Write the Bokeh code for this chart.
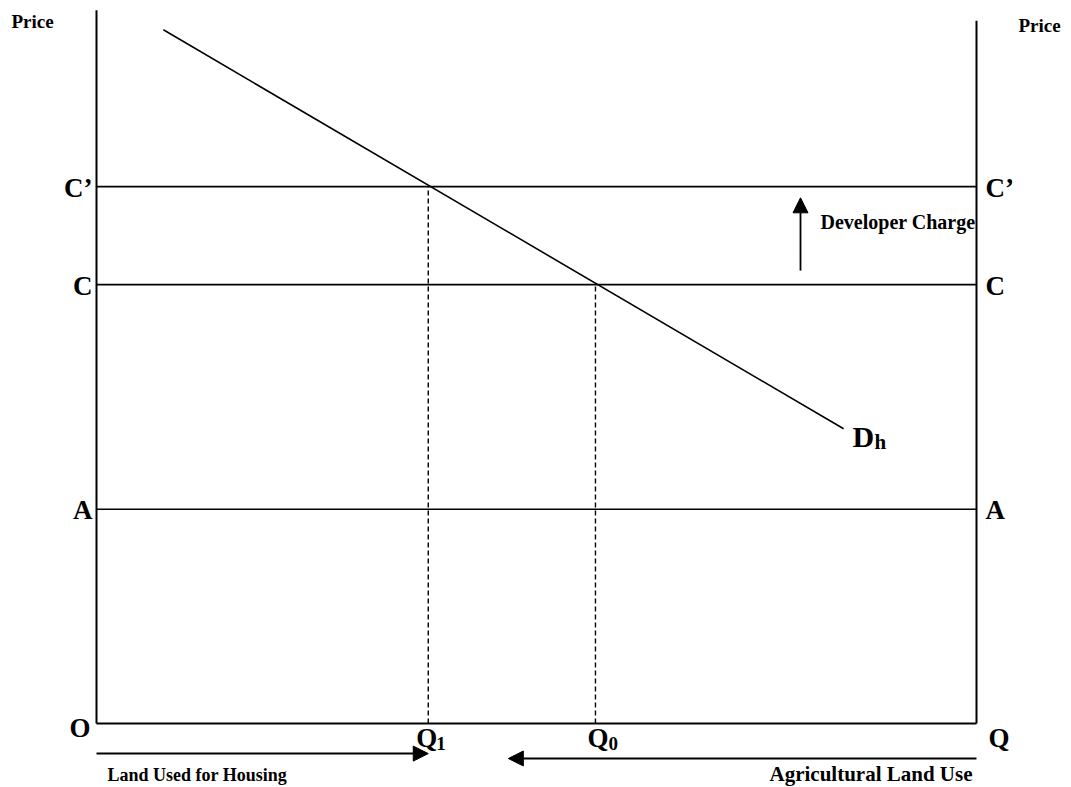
from bokeh.plotting import figure
from bokeh.models import Range1d, Arrow, NormalHead
from bokeh.core.properties import value
from bokeh.embed import file_html
from bokeh.resources import INLINE

# ---- chart values (quantity on x, price on y, in chart units) ----
Q_MAX = 100.0          # right-hand axis (total land Q)
P_TOP_LEFT = 101.9     # top of left price axis
P_TOP_RIGHT = 100.4    # top of right price axis
Q1 = 37.7              # land used for housing with developer charge
Q0 = 56.7              # land used for housing without charge
price_names = ["A", "C", "C’"]
price_values = [30.6, 62.7, 76.7]
P_A, P_C, P_C2 = price_values
demand_q = [7.6, 84.9]
demand_p = [99.1, 42.1]
charge_arrow_q = 80.0
charge_arrow_p = [64.7, 75.1]
housing_arrow_q = [0.0, Q1]
housing_arrow_p = -4.3
agri_arrow_q = [Q_MAX, 46.8]
agri_arrow_p = -5.0

# pixel scale of the diagram
KX, KY = 8.8, 7.0
X0_PX, Y0_PX = 96, 723
W, H = 1071, 787

p = figure(width=W, height=H, output_backend="svg", toolbar_location=None,
           x_range=Range1d(-X0_PX / KX, (W - X0_PX) / KX),
           y_range=Range1d((Y0_PX - H) / KY, Y0_PX / KY),
           min_border=0)
p.axis.visible = False
p.grid.visible = False
p.outline_line_color = None
p.background_fill_color = "white"
p.border_fill_color = "white"

FONT = value("Liberation Serif")
BLK = "black"

# axes
p.line([0, 0], [0, P_TOP_LEFT], line_color=BLK, line_width=2)
p.line([Q_MAX, Q_MAX], [0, P_TOP_RIGHT], line_color=BLK, line_width=2)
p.line([0, Q_MAX], [0, 0], line_color=BLK, line_width=2)

# horizontal price levels
for pv in price_values:
    p.line([0, Q_MAX], [pv, pv], line_color=BLK, line_width=1.6)

# demand curve
p.line(demand_q, demand_p, line_color=BLK, line_width=1.6)

# dashed drop lines
p.line([Q1, Q1], [0, P_C2], line_color=BLK, line_width=1.4, line_dash="5 3")
p.line([Q0, Q0], [0, P_C], line_color=BLK, line_width=1.4, line_dash="5 3")

# arrows
def head():
    return NormalHead(size=15, fill_color=BLK, line_color=BLK, line_width=1)

p.add_layout(Arrow(end=head(), x_start=charge_arrow_q, y_start=charge_arrow_p[0],
                   x_end=charge_arrow_q, y_end=charge_arrow_p[1],
                   line_color=BLK, line_width=1.8))
p.add_layout(Arrow(end=head(), x_start=housing_arrow_q[0], y_start=housing_arrow_p,
                   x_end=housing_arrow_q[1], y_end=housing_arrow_p,
                   line_color=BLK, line_width=2))
p.add_layout(Arrow(end=head(), x_start=agri_arrow_q[0], y_start=agri_arrow_p,
                   x_end=agri_arrow_q[1], y_end=agri_arrow_p,
                   line_color=BLK, line_width=2))

def txt(x, y, s, size, align="left", dx=0, dy=0):
    p.text(x=[x], y=[y], text=[s], text_font=FONT, text_font_style="bold",
           text_font_size=f"{size}px", text_color=BLK, text_align=align,
           text_baseline="middle", x_offset=dx, y_offset=dy)

# price labels on both sides
for name, pv in zip(price_names, price_values):
    txt(0, pv, name, 27, align="right", dx=-4, dy=1)
    txt(Q_MAX, pv, name, 27, align="left", dx=9, dy=1)

# axis titles
txt(0, P_TOP_LEFT, "Price", 19, align="left", dx=-85, dy=11)
txt(Q_MAX, P_TOP_LEFT, "Price", 19, align="left", dx=42, dy=15)

# origin and quantities
txt(0, 0, "O", 27, align="right", dx=-6, dy=4)
txt(Q_MAX, 0, "Q", 27, align="left", dx=12, dy=14)
txt(Q1, 0, "Q", 27, align="right", dx=9, dy=14)
txt(Q1, 0, "1", 19, align="left", dx=8, dy=20)
txt(Q0, 0, "Q", 27, align="right", dx=13, dy=14)
txt(Q0, 0, "0", 19, align="left", dx=13, dy=20)

# demand label
txt(demand_q[1], demand_p[1], "D", 30, align="left", dx=9, dy=8)
txt(demand_q[1], demand_p[1], "h", 21, align="left", dx=31, dy=13)

# developer charge
txt(charge_arrow_q, P_C, "Developer Charge", 20, align="left", dx=20, dy=-63)

# bottom captions
txt(0, 0, "Land Used for Housing", 18, align="left", dx=11, dy=51)
txt(Q_MAX, 0, "Agricultural Land Use", 21, align="right", dx=-4, dy=50)

open("out.html", "w").write(file_html(p, INLINE))
